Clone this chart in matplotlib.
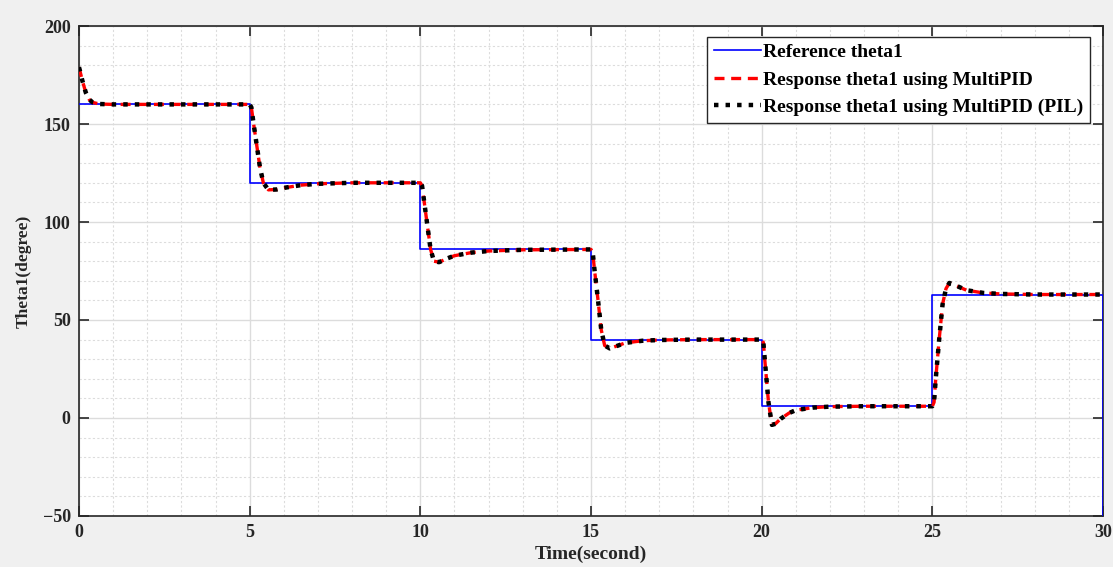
import matplotlib.pyplot as plt
from matplotlib.ticker import MultipleLocator

# reference step signal (steps-post)
ref_t = [0, 5, 10, 15, 20, 25, 30]
ref_theta = [160, 120, 86, 40, 6, 63, -50]

# response samples
resp_t = [0, 0.1, 0.2, 0.3, 0.4, 0.6, 1.0, 5.0,
          5.05, 5.1, 5.2, 5.3, 5.4, 5.55, 5.8, 6.0, 6.5, 7.0, 8.0, 10.0,
          10.05, 10.1, 10.2, 10.3, 10.4, 10.55, 10.8, 11.0, 11.5, 12.0, 13.0, 15.0,
          15.05, 15.1, 15.2, 15.3, 15.4, 15.55, 15.8, 16.0, 16.5, 17.0, 18.0, 20.0,
          20.05, 20.1, 20.2, 20.3, 20.4, 20.55, 20.8, 21.0, 21.5, 22.0, 23.0, 25.0,
          25.05, 25.1, 25.2, 25.3, 25.4, 25.5, 25.7, 26.0, 26.5, 27.0, 28.0, 30.0]
resp_theta = [179, 172, 166, 162.5, 161, 160.2, 160, 160,
              158.5, 152, 140, 128, 120, 116.4, 116.6, 117.4, 118.8, 119.5, 120, 120,
              118.5, 112, 99, 86, 80, 79.5, 81.5, 82.8, 84.4, 85.2, 85.8, 86,
              84.5, 76, 61, 45, 37, 35.5, 37, 38.3, 39.4, 39.8, 40, 40,
              38.5, 28, 8, -3.5, -3.0, -0.5, 2.5, 4.0, 5.3, 5.8, 6, 6,
              8, 20, 40, 58, 66, 68.9, 67.5, 65.2, 63.8, 63.3, 63, 63]
pil_theta = resp_theta

serif = "Liberation Serif"
ink = "#262626"

fig = plt.figure(figsize=(11.13, 5.67), dpi=100, facecolor="#f0f0f0")
ax = fig.add_axes([79 / 1113, 51 / 567, 1024 / 1113, 490 / 567])
ax.set_facecolor("white")

ax.plot(ref_t, ref_theta, drawstyle="steps-post", color="#0000ff", lw=1.2,
        label="Reference theta1", zorder=3)
ax.plot(resp_t, resp_theta, color="#ff0000", lw=2.4, dashes=(3, 2),
        label="Response theta1 using MultiPID", zorder=4)
ax.plot(resp_t, pil_theta, color="black", lw=3.2, dashes=(1, 1.6),
        dash_capstyle="butt", label="Response theta1 using MultiPID (PIL)", zorder=5)

ax.set_xlim(0, 30)
ax.set_ylim(-50, 200)
ax.xaxis.set_major_locator(MultipleLocator(5))
ax.xaxis.set_minor_locator(MultipleLocator(1))
ax.yaxis.set_major_locator(MultipleLocator(50))
ax.yaxis.set_minor_locator(MultipleLocator(10))
ax.grid(which="major", color="#dcdcdc", lw=1.0, ls="-")
ax.grid(which="minor", color="#dcdcdc", lw=0.8, ls=(0, (2, 2)))
ax.set_axisbelow(True)
ax.tick_params(which="major", direction="in", length=7, width=1.2,
               top=True, right=True, labelsize=13, pad=6, colors=ink)
ax.tick_params(which="minor", length=0)
for s in ax.spines.values():
    s.set_color(ink)
    s.set_linewidth(1.2)

for lab in ax.get_xticklabels() + ax.get_yticklabels():
    lab.set_family(serif)
    lab.set_fontweight("bold")

ax.set_xlabel("Time(second)", family=serif, fontweight="bold",
              fontsize=14, color=ink, labelpad=3)
ax.set_ylabel("Theta1(degree)", family=serif, fontweight="bold",
              fontsize=12.5, color=ink, labelpad=8)

leg = ax.legend(loc="upper right", bbox_to_anchor=(0.987, 0.978),
                prop={"family": serif, "weight": "bold", "size": 14},
                handlelength=2.4, handletextpad=0.1, borderpad=0.35,
                labelspacing=0.5, fancybox=False, framealpha=1,
                edgecolor=ink, borderaxespad=0)
leg.get_frame().set_linewidth(1.0)

fig.savefig("out.png", dpi=100, facecolor=fig.get_facecolor())
